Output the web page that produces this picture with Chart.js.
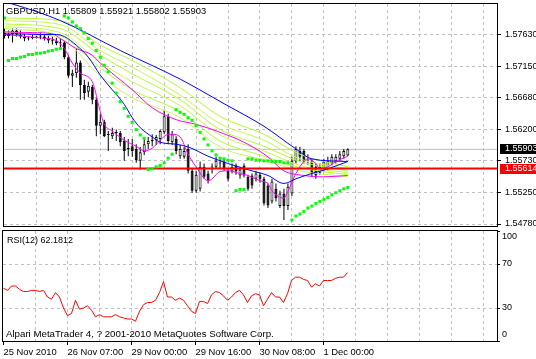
<!DOCTYPE html>
<html>
<head>
<meta charset="utf-8">
<script src="https://cdn.jsdelivr.net/npm/chart.js@4.4.1/dist/chart.umd.min.js"></script>
<style>
body { margin: 0; background: #fff; }
#wrap { position: relative; width: 536px; height: 359px; background: #fff; overflow: hidden; }
canvas { position: absolute; left: 0; }
</style>
</head>
<body>
<div id="wrap">
<canvas id="priceChart" width="536" height="230" style="top:0"></canvas>
<canvas id="rsiChart" width="536" height="130" style="top:229px"></canvas>
</div>
<script>
// GBPUSD H1 bars, oldest first
const opens = [1.5766,1.5761,1.5764,1.5769,1.5763,1.5760,1.5757,1.5758,1.5758,1.5760,
  1.5760,1.5757,1.5754,1.5753,1.5750,1.5751,1.5729,1.5701,1.5705,1.5721,
  1.5687,1.5677,1.5684,1.5665,1.5626,1.5632,1.5612,1.5610,1.5615,1.5615,
  1.5603,1.5591,1.5595,1.5591,1.5573,1.5586,1.5598,1.5603,1.5604,1.5606,
  1.5616,1.5640,1.5601,1.5606,1.5580,1.5579,1.5591,1.5558,1.5528,1.5531,
  1.5564,1.5554,1.5563,1.5564,1.5569,1.5572,1.5558,1.5557,1.5566,1.5551,
  1.5566,1.5549,1.5551,1.5546,1.5552,1.5546,1.5536,1.5512,1.5531,1.5505,
  1.5524,1.5505,1.5524,1.5572,1.5588,1.5588,1.5573,1.5572,1.5564,1.5555,
  1.5561,1.5561,1.5569,1.5572,1.5576,1.5580,1.55809];
const highs = [1.5772,1.5769,1.5772,1.5772,1.5769,1.5764,1.5761,1.5763,1.5761,1.5766,
  1.5764,1.5761,1.5760,1.5758,1.5757,1.5754,1.5732,1.5710,1.5742,1.5724,
  1.5695,1.5692,1.5687,1.5668,1.5643,1.5635,1.5618,1.5623,1.5620,1.5618,
  1.5609,1.5606,1.5606,1.5598,1.5594,1.5606,1.5609,1.5613,1.5612,1.5620,
  1.5650,1.5644,1.5618,1.5610,1.5597,1.5594,1.5598,1.5561,1.5558,1.5572,
  1.5569,1.5558,1.5569,1.5579,1.5576,1.5576,1.5561,1.5569,1.5569,1.5564,
  1.5569,1.5552,1.5554,1.5558,1.5555,1.5549,1.5539,1.5546,1.5539,1.5528,
  1.5531,1.5539,1.5579,1.5595,1.5594,1.5591,1.5583,1.5576,1.5569,1.5569,
  1.5576,1.5579,1.5583,1.5583,1.5588,1.5591,1.55921];
const lows = [1.5757,1.5757,1.5751,1.5760,1.5757,1.5753,1.5754,1.5756,1.5757,1.5756,
  1.5754,1.5750,1.5748,1.5747,1.5742,1.5726,1.5698,1.5684,1.5698,1.5665,
  1.5665,1.5669,1.5658,1.5610,1.5613,1.5609,1.5588,1.5606,1.5603,1.5595,
  1.5573,1.5580,1.5579,1.5570,1.5560,1.5582,1.5591,1.5595,1.5597,1.5598,
  1.5613,1.5598,1.5597,1.5583,1.5576,1.5576,1.5554,1.5525,1.5525,1.5527,
  1.5546,1.5539,1.5554,1.5561,1.5561,1.5558,1.5542,1.5554,1.5552,1.5546,
  1.5548,1.5528,1.5531,1.5542,1.5540,1.5506,1.5502,1.5509,1.5512,1.5502,
  1.5484,1.5499,1.5520,1.5569,1.5573,1.5569,1.5567,1.5549,1.5546,1.5552,
  1.5557,1.5558,1.5566,1.5569,1.5573,1.5576,1.55802];
const closes = [1.5761,1.5764,1.5769,1.5763,1.5760,1.5757,1.5758,1.5758,1.5760,1.5760,
  1.5757,1.5754,1.5753,1.5750,1.5751,1.5729,1.5701,1.5705,1.5721,1.5687,
  1.5675,1.5686,1.5665,1.5626,1.5632,1.5610,1.5613,1.5615,1.5616,1.5601,
  1.5588,1.5591,1.5588,1.5574,1.5586,1.5598,1.5603,1.5604,1.5609,1.5618,
  1.5640,1.5603,1.5613,1.5588,1.5591,1.5588,1.5558,1.5528,1.5552,1.5564,
  1.5549,1.5543,1.5563,1.5573,1.5569,1.5561,1.5546,1.5564,1.5557,1.5560,
  1.5551,1.5531,1.5536,1.5554,1.5546,1.5509,1.5506,1.5542,1.5517,1.5524,
  1.5505,1.5534,1.5573,1.5591,1.5579,1.5572,1.5572,1.5554,1.5551,1.5564,
  1.5572,1.5573,1.5579,1.5579,1.5583,1.5588,1.55903];

// parabolic SAR, one dot per bar
const sar = [1.5788,1.5724,1.5727,1.5727,1.5729,1.5730,1.5733,1.5733,1.5735,1.5735,
  1.5736,1.5738,1.5739,1.5741,1.5742,1.5791,1.5788,1.5782,1.5776,1.5772,
  1.5766,1.5757,1.5750,1.5739,1.5729,1.5717,1.5707,1.5690,1.5675,1.5662,
  1.5652,1.5640,1.5631,1.5620,1.5612,1.5607,1.5560,1.5561,1.5564,1.5566,
  1.5570,1.5577,1.5583,1.5650,1.5646,1.5643,1.5638,1.5634,1.5626,1.5616,
  1.5606,1.5597,1.5588,1.5582,1.5577,1.5576,1.5574,1.5573,1.5528,1.5530,
  1.5530,1.5576,1.5576,1.5574,1.5574,1.5573,1.5573,1.5572,1.5572,1.5572,
  1.5570,1.5570,1.5484,1.5490,1.5493,1.5497,1.5502,1.5505,1.5509,1.5512,
  1.5515,1.5518,1.5522,1.5525,1.5528,1.5531,1.5533];

// RSI(12)
const rsi = [48,46,50,50,47,45,45,46,46,45,
  46,40,38,44,40,30,23,25,37,29,
  30,32,28,22,24,22,22,22,24,22,
  21,20,20,18,27,33,35,35,37,44,
  54,40,40,37,39,37,32,27,25,36,
  36,34,42,45,44,41,37,40,44,46,
  42,35,41,43,42,32,38,44,40,40,
  35,43,55,58,58,56,55,49,52,50,
  55,55,55,57,58,58,62.1812];

// moving averages, read at selected bars
const blueSlowBars = [0,2,14,29,44,55,65,73,77,86];
const blueSlow = [1.5812,1.5809,1.5784,1.5739,1.5696,1.5659,1.5625,1.5591,1.5576,1.5572];
const blueFastBars = [0,4,9,13,15,18,21,24,26,30,32,34,37,39,43,46,51,56,62,66,70,73,77,81,86];
const blueFast = [1.5764,1.5764,1.5763,1.5763,1.5760,1.5747,1.5729,1.5702,1.5687,1.5658,1.5638,1.5623,1.5609,
  1.5601,1.5598,1.5594,1.5580,1.5569,1.5558,1.5551,1.5539,1.5546,1.5554,1.5561,1.5572];
const magSlowBars = [0,7,12,14,18,22,24,32,37,43,48,54,60,66,70,75,80,86];
const magSlow = [1.5767,1.5766,1.5764,1.5757,1.5742,1.5732,1.5720,1.5680,1.5653,1.5635,1.5628,1.5616,
  1.5601,1.5579,1.5558,1.5551,1.5549,1.5551];
const magFastBars = [0,4,9,13,15,17,19,22,24,25,27,28,30,33,35,37,39,41,42,44,46,48,51,52,54,56,59,61,64,66,
  67,70,71,73,75,76,78,79,81,83,86];
const magFast = [1.5763,1.5761,1.5758,1.5754,1.5742,1.5720,1.5705,1.5692,1.5647,1.5628,1.5618,1.5613,1.5604,
  1.5595,1.5588,1.5592,1.5604,1.5613,1.5613,1.5609,1.5583,1.5564,1.5543,1.5546,1.5557,1.5558,1.5554,1.5551,
  1.5543,1.5539,1.5528,1.5517,1.5527,1.5554,1.5572,1.5576,1.5569,1.5561,1.5564,1.5572,1.5580];
const fanBars = [0,14,24,32,44,54,65,74,86];
const fan1 = [1.5788,1.5784,1.5747,1.5724,1.5683,1.5640,1.5613,1.5583,1.5564];
const fan2 = [1.5784,1.5778,1.5739,1.5714,1.5672,1.5629,1.5604,1.5576,1.5561];
const fan3 = [1.5779,1.5772,1.5732,1.5704,1.5665,1.5620,1.5595,1.5572,1.5558];
const fan4 = [1.5775,1.5766,1.5721,1.5692,1.5656,1.5612,1.5588,1.5566,1.5555];
const fan5 = [1.5772,1.5761,1.5713,1.5680,1.5647,1.5603,1.5580,1.5563,1.5552];
const fan6 = [1.5767,1.5757,1.5701,1.5668,1.5638,1.5594,1.5574,1.5558,1.5549];

const bidPrice = 1.55903;
const levelPrice = 1.55614;
const priceTicks = [1.5763, 1.5715, 1.5668, 1.5620, 1.5573, 1.5525, 1.5478];
const rsiTicks = [100, 70, 30, 0];
const timeBars = [0, 16, 32, 48, 64, 80];
const timeLabels = ['25 Nov 2010', '26 Nov 07:00', '29 Nov 00:00', '29 Nov 16:00', '30 Nov 08:00', '1 Dec 00:00'];

const FAMILY = "'Liberation Sans', Arial, sans-serif";
const FONT = '9px ' + FAMILY;
Chart.defaults.font.family = FAMILY;
Chart.defaults.font.size = 9;
Chart.defaults.color = '#000';

// 4 px per bar, bar 0 centred on x = 3.5
const xMin = -0.125, xMax = 123.375;
const gridBars = [];
for (let b = 8; b <= 120; b += 8) gridBars.push(b);

function gridAxis(position) {
  return {
    type: 'linear', position: position, min: xMin, max: xMax, offset: false,
    afterBuildTicks: s => { s.ticks = gridBars.map(v => ({ value: v })); },
    afterFit: s => { s.height = 0; s.paddingLeft = 0; s.paddingRight = 0; },
    ticks: { display: false },
    grid: { color: '#c0c0c0', drawTicks: false, offset: false },
    border: { display: false, dash: [3, 3] }
  };
}

function maLine(bars, vals, color, order) {
  return {
    type: 'line', data: bars.map((b, k) => ({ x: b, y: vals[k] })),
    borderColor: color, borderWidth: 1, pointRadius: 0,
    cubicInterpolationMode: 'monotone', order: order
  };
}

function hLine(price, color, width, order) {
  return {
    type: 'line', data: [{ x: xMin, y: price }, { x: xMax, y: price }],
    borderColor: color, borderWidth: width, pointRadius: 0, order: order
  };
}

const frame = {
  id: 'frame',
  afterDraw(chart) {
    const a = chart.chartArea, ctx = chart.ctx;
    ctx.save();
    ctx.strokeStyle = '#000';
    ctx.lineWidth = 1;
    ctx.strokeRect(a.left - 0.5, a.top - 0.5, a.right - a.left + 1, a.bottom - a.top + 1);
    ctx.restore();
  }
};

const last = closes.length - 1;
const header = 'GBPUSD,H1 ' + [opens[last], highs[last], lows[last], closes[last]].map(v => v.toFixed(5)).join(' ');

const priceText = {
  id: 'priceText',
  afterDraw(chart) {
    const ctx = chart.ctx, y = chart.scales.y;
    ctx.save();
    ctx.textBaseline = 'middle';
    ctx.fillStyle = '#000';
    ctx.font = '9.4px ' + FAMILY;
    ctx.fillText(header, 6, 11);
    ctx.font = FONT;
    [[bidPrice, '#000'], [levelPrice, '#ff0000']].forEach(([p, bg]) => {
      const py = Math.round(y.getPixelForValue(p));
      ctx.fillStyle = bg;
      ctx.fillRect(500, py - 5, 36, 10);
      ctx.fillStyle = '#fff';
      ctx.fillText(p.toFixed(5), 505, py);
    });
    ctx.restore();
  }
};

const bodies = opens.map((o, i) => ({ x: i, y: [o, closes[i]] }));
const wicks = lows.map((l, i) => ({ x: i, y: [l, highs[i]] }));
const bodyColors = opens.map((o, i) => closes[i] >= o ? '#fff' : '#000');

new Chart('priceChart', {
  type: 'bar',
  data: {
    datasets: [
      hLine(bidPrice, '#c0c0c0', 1, 12),
      { type: 'bar', data: wicks, backgroundColor: '#000', barThickness: 1, grouped: false,
        minBarLength: 1, inflateAmount: 0, order: 11 },
      { type: 'bar', data: bodies, backgroundColor: bodyColors, borderColor: '#000', borderWidth: 1,
        borderSkipped: false, barThickness: 3, grouped: false, minBarLength: 1, inflateAmount: 0, order: 10 },
      maLine(fanBars, fan1, '#adff2f', 8),
      maLine(fanBars, fan2, '#c8f550', 8),
      maLine(fanBars, fan3, '#adff2f', 8),
      maLine(fanBars, fan4, '#c8f550', 8),
      maLine(fanBars, fan5, '#adff2f', 8),
      maLine(fanBars, fan6, '#c8f550', 8),
      maLine(blueSlowBars, blueSlow, '#0000ff', 7),
      maLine(magSlowBars, magSlow, '#ff00ff', 7),
      maLine(blueFastBars, blueFast, '#0000ff', 6),
      maLine(magFastBars, magFast, '#ff00ff', 6),
      hLine(levelPrice, '#ff0000', 2, 5),
      { type: 'line', data: sar.map((v, i) => ({ x: i, y: v })), showLine: false,
        pointStyle: 'rect', pointRadius: 2.13, pointBackgroundColor: '#00ff00',
        pointBorderWidth: 0, order: 1 }
    ]
  },
  options: {
    responsive: false, animation: false, devicePixelRatio: 1, events: [],
    layout: { padding: { left: 3, top: 3, right: 0, bottom: 2 } },
    plugins: { legend: { display: false }, tooltip: { enabled: false } },
    scales: {
      x: gridAxis('top'),
      y: {
        type: 'linear', position: 'right', min: 1.54750, max: 1.58090, beginAtZero: false,
        afterBuildTicks: s => { s.ticks = priceTicks.map(v => ({ value: v })); },
        afterFit: s => { s.width = 39; s.paddingTop = 0; s.paddingBottom = 0; },
        ticks: { crossAlign: 'near', padding: 4, autoSkip: false, callback: v => v.toFixed(5) },
        grid: { color: '#c0c0c0', tickColor: '#000', tickLength: 4 },
        border: { display: false, dash: [3, 3] }
      }
    }
  },
  plugins: [frame, priceText]
});

const rsiText = {
  id: 'rsiText',
  afterDraw(chart) {
    const ctx = chart.ctx, y = chart.scales.y, a = chart.chartArea;
    ctx.save();
    ctx.textBaseline = 'middle';
    ctx.fillStyle = '#000';
    ctx.font = FONT;
    ctx.fillText('RSI(12) ' + rsi[rsi.length - 1].toFixed(4), 7, 12);
    rsiTicks.forEach(t => {
      const py = Math.min(Math.max(y.getPixelForValue(t), a.top + 6), a.bottom - 6);
      ctx.fillText(String(t), 502, py);
    });
    ctx.font = '9.7px ' + FAMILY;
    ctx.fillText('Alpari MetaTrader 4, ? 2001-2010 MetaQuotes Software Corp.', 6, 105);
    ctx.restore();
  }
};

new Chart('rsiChart', {
  type: 'line',
  data: {
    datasets: [{
      data: rsi.map((v, i) => ({ x: i, y: v })),
      borderColor: '#ff0000', borderWidth: 1, pointRadius: 0, tension: 0
    }]
  },
  options: {
    responsive: false, animation: false, devicePixelRatio: 1, events: [],
    layout: { padding: { left: 3, top: 2, right: 0, bottom: 0 } },
    plugins: { legend: { display: false }, tooltip: { enabled: false } },
    scales: {
      x: gridAxis('top'),
      xt: {
        type: 'linear', position: 'bottom', min: xMin, max: xMax, offset: false,
        afterBuildTicks: s => { s.ticks = timeBars.map(v => ({ value: v })); },
        afterFit: s => { s.height = 18; s.paddingLeft = 0; s.paddingRight = 0; },
        ticks: { align: 'start', padding: 2, maxRotation: 0, autoSkip: false,
          font: { size: 9.4 }, callback: v => timeLabels[timeBars.indexOf(v)] },
        grid: { drawOnChartArea: false, tickColor: '#000', tickLength: 4, offset: false },
        border: { display: false }
      },
      y: {
        type: 'linear', position: 'right', min: 0, max: 100,
        afterBuildTicks: s => { s.ticks = rsiTicks.map(v => ({ value: v })); },
        afterFit: s => { s.width = 39; s.paddingTop = 0; s.paddingBottom = 0; },
        ticks: { display: false },
        grid: {
          color: c => (c.tick && (c.tick.value === 70 || c.tick.value === 30)) ? '#c0c0c0' : 'rgba(0,0,0,0)',
          tickColor: '#000', tickLength: 3
        },
        border: { display: false, dash: [3, 3] }
      }
    }
  },
  plugins: [frame, rsiText]
});
</script>
</body>
</html>
